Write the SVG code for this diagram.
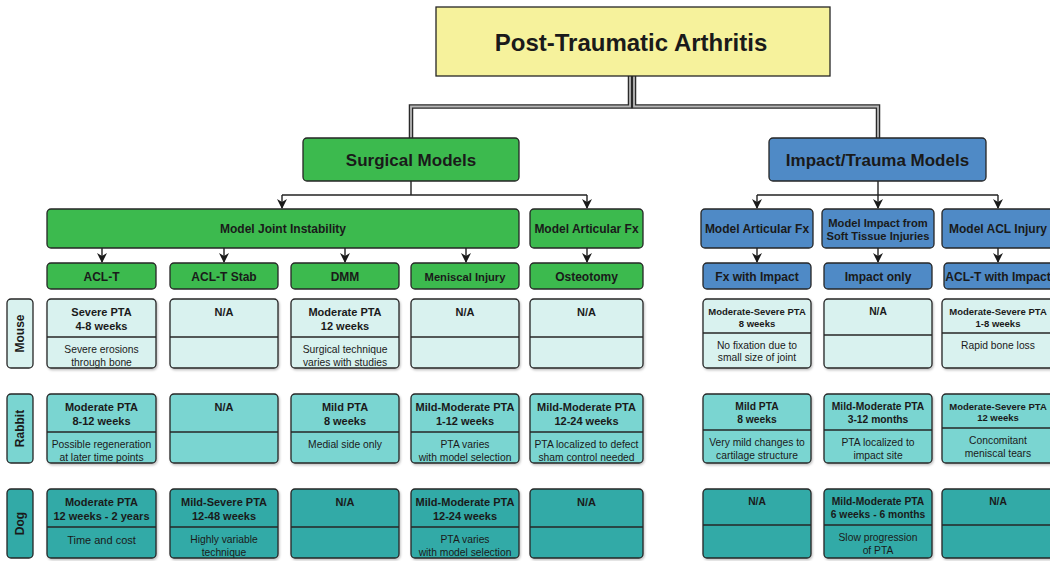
<svg xmlns="http://www.w3.org/2000/svg" width="1050" height="561" viewBox="0 0 1050 561">
<defs>
<style>
text{font-family:"Liberation Sans",Arial,sans-serif;fill:#1a1a1a;text-anchor:middle}
.b{font-weight:bold}
.box{stroke:#262626;stroke-width:1.3}
.g{fill:#3cba4e}
.bl{fill:#4f8ac6}
.m{fill:#d9f2ef}
.r{fill:#7ad5d1}
.d{fill:#32aaa7}
.div{stroke:#262626;stroke-width:1.3}
.con{fill:none;stroke:#222;stroke-width:1.4}
.dbo{fill:none;stroke:#2a2a2a;stroke-width:4.5}
.dbi{fill:none;stroke:#b8b8b8;stroke-width:1.8}
.t1{font-size:11px;font-weight:bold}
.t2{font-size:10.3px}
.t3{font-size:10.3px;font-weight:bold}
.t4{font-size:9.5px;font-weight:bold}
.sh{filter:url(#shadow)}
</style>
<filter id="shadow" x="-10%" y="-10%" width="130%" height="130%">
<feDropShadow dx="1" dy="1.5" stdDeviation="1.2" flood-color="#000" flood-opacity="0.25"/>
</filter>
<marker id="arr" markerWidth="10" markerHeight="10" refX="9" refY="5" orient="auto" markerUnits="userSpaceOnUse">
<path d="M0,0 L10,5 L0,10 L3,5 z" fill="#1a1a1a"/>
</marker>
</defs>
<rect width="1050" height="561" fill="#fff"/>

<g id="connectors">
<path class="dbo" d="M630,76 V106.5 H411 V138"/>
<path class="dbo" d="M634,76 V106.5 H878 V138"/>
<path class="dbi" d="M630,76 V106.5 H411 V138"/>
<path class="dbi" d="M634,76 V106.5 H878 V138"/>
<path class="con" d="M411,181 V195"/>
<path class="con" d="M282,195 H587"/>
<path class="con" d="M282,195 V208" marker-end="url(#arr)"/>
<path class="con" d="M587,195 V208" marker-end="url(#arr)"/>
<path class="con" d="M878,181 V208" marker-end="url(#arr)"/>
<path class="con" d="M757,195 H998"/>
<path class="con" d="M757,195 V208" marker-end="url(#arr)"/>
<path class="con" d="M998,195 V208" marker-end="url(#arr)"/>
<path class="con" d="M102,248 V262" marker-end="url(#arr)"/>
<path class="con" d="M224,248 V262" marker-end="url(#arr)"/>
<path class="con" d="M345,248 V262" marker-end="url(#arr)"/>
<path class="con" d="M466,248 V262" marker-end="url(#arr)"/>
<path class="con" d="M587,248 V262" marker-end="url(#arr)"/>
<path class="con" d="M757,248 V262" marker-end="url(#arr)"/>
<path class="con" d="M878,248 V262" marker-end="url(#arr)"/>
<path class="con" d="M998,248 V262" marker-end="url(#arr)"/>
</g>

<g id="title">
<rect x="436" y="7" width="394" height="69" fill="#f6f29c" class="box"/>
<text x="631" y="51" class="b" style="font-size:24px">Post-Traumatic Arthritis</text>
</g>

<g id="surgical">
<rect x="303" y="138" width="216" height="43" rx="4" class="box g"/>
<text x="411" y="166" class="b" style="font-size:17px">Surgical Models</text>
</g>
<g id="impact">
<rect x="769" y="138" width="217" height="43" rx="4" class="box bl"/>
<text x="877.5" y="166" class="b" style="font-size:17px">Impact/Trauma Models</text>
</g>

<g id="joint-instability">
<rect x="47" y="209" width="472" height="39" rx="4" class="box g"/>
<text x="283" y="233" class="b" style="font-size:12px">Model Joint Instability</text>
</g>
<g id="s-articular">
<rect x="530" y="209" width="113" height="39" rx="4" class="box g"/>
<text x="586.5" y="233" class="b" style="font-size:12px">Model Articular Fx</text>
</g>
<g id="i-articular">
<rect x="701" y="209" width="112" height="39" rx="4" class="box bl"/>
<text x="757" y="233" class="b" style="font-size:12px">Model Articular Fx</text>
</g>
<g id="i-soft">
<rect x="822" y="209" width="112" height="39" rx="4" class="box bl"/>
<text x="878" y="227" class="b" style="font-size:11.2px">Model Impact from</text>
<text x="878" y="240" class="b" style="font-size:11.2px">Soft Tissue Injuries</text>
</g>
<g id="i-acl">
<rect x="942" y="209" width="114" height="39" rx="4" class="box bl"/>
<text x="998" y="233" class="b" style="font-size:12px">Model ACL Injury</text>
</g>

<g id="aclt"><rect x="47" y="263" width="109" height="26" rx="4" class="box g"/><text x="101.5" y="281" class="b" style="font-size:12px">ACL-T</text></g>
<g id="acltstab"><rect x="170" y="263" width="108" height="26" rx="4" class="box g"/><text x="224" y="281" class="b" style="font-size:12px">ACL-T Stab</text></g>
<g id="dmm"><rect x="291" y="263" width="108" height="26" rx="4" class="box g"/><text x="345" y="281" class="b" style="font-size:12px">DMM</text></g>
<g id="meniscal"><rect x="411" y="263" width="108" height="26" rx="4" class="box g"/><text x="465" y="281" class="b" style="font-size:11.2px">Meniscal Injury</text></g>
<g id="osteotomy"><rect x="530" y="263" width="113" height="26" rx="4" class="box g"/><text x="586.5" y="281" class="b" style="font-size:12px">Osteotomy</text></g>
<g id="fximpact"><rect x="703" y="263" width="108" height="26" rx="4" class="box bl"/><text x="757" y="281" class="b" style="font-size:12px">Fx with Impact</text></g>
<g id="impactonly"><rect x="824" y="263" width="108" height="26" rx="4" class="box bl"/><text x="878" y="281" class="b" style="font-size:12px">Impact only</text></g>
<g id="acltimpact"><rect x="944" y="263" width="112" height="26" rx="4" class="box bl"/><text x="998" y="281" class="b" style="font-size:12px">ACL-T with Impact</text></g>

<g id="row-mouse"><rect x="7" y="299" width="26" height="69" rx="4" class="box m"/><text transform="translate(24,333.5) rotate(-90)" class="b" style="font-size:12px">Mouse</text></g>
<g id="row-rabbit"><rect x="7" y="394" width="26" height="69" rx="4" class="box r"/><text transform="translate(24,428.5) rotate(-90)" class="b" style="font-size:12px">Rabbit</text></g>
<g id="row-dog"><rect x="7" y="489" width="26" height="69" rx="4" class="box d"/><text transform="translate(24,523.5) rotate(-90)" class="b" style="font-size:12px">Dog</text></g>

<!-- Mouse row -->
<g id="m-aclt"><rect x="47" y="299" width="109" height="69" rx="4" class="box m sh"/><line x1="47" y1="337" x2="156" y2="337" class="div"/>
<text x="101.5" y="316" class="t1">Severe PTA</text><text x="101.5" y="330" class="t1">4-8 weeks</text>
<text x="101.5" y="353" class="t2">Severe erosions</text><text x="101.5" y="366" class="t2">through bone</text></g>
<g id="m-acltstab"><rect x="170" y="299" width="108" height="69" rx="4" class="box m sh"/><line x1="170" y1="337" x2="278" y2="337" class="div"/>
<text x="224" y="316" class="t1">N/A</text></g>
<g id="m-dmm"><rect x="291" y="299" width="108" height="69" rx="4" class="box m sh"/><line x1="291" y1="337" x2="399" y2="337" class="div"/>
<text x="345" y="316" class="t1">Moderate PTA</text><text x="345" y="330" class="t1">12 weeks</text>
<text x="345" y="353" class="t2">Surgical technique</text><text x="345" y="366" class="t2">varies with studies</text></g>
<g id="m-meniscal"><rect x="411" y="299" width="108" height="69" rx="4" class="box m sh"/><line x1="411" y1="337" x2="519" y2="337" class="div"/>
<text x="465" y="316" class="t1">N/A</text></g>
<g id="m-osteotomy"><rect x="530" y="299" width="113" height="69" rx="4" class="box m sh"/><line x1="530" y1="337" x2="643" y2="337" class="div"/>
<text x="586.5" y="316" class="t1">N/A</text></g>
<g id="m-fximpact"><rect x="703" y="299" width="108" height="69" rx="4" class="box m sh"/><line x1="703" y1="333" x2="811" y2="333" class="div"/>
<text x="757" y="314.5" class="t4">Moderate-Severe PTA</text><text x="757" y="326.5" class="t4">8 weeks</text>
<text x="757" y="349" class="t2">No fixation due to</text><text x="757" y="361" class="t2">small size of joint</text></g>
<g id="m-impactonly"><rect x="824" y="299" width="108" height="69" rx="4" class="box m sh"/><line x1="824" y1="335" x2="932" y2="335" class="div"/>
<text x="878" y="315" class="t3">N/A</text></g>
<g id="m-acltimpact"><rect x="942" y="299" width="114" height="69" rx="4" class="box m sh"/><line x1="942" y1="333" x2="1056" y2="333" class="div"/>
<text x="998" y="314.5" class="t4">Moderate-Severe PTA</text><text x="998" y="326.5" class="t4">1-8 weeks</text>
<text x="998" y="349" class="t2">Rapid bone loss</text></g>

<!-- Rabbit row -->
<g id="r-aclt"><rect x="47" y="394" width="109" height="69" rx="4" class="box r sh"/><line x1="47" y1="432" x2="156" y2="432" class="div"/>
<text x="101.5" y="411" class="t1">Moderate PTA</text><text x="101.5" y="425" class="t1">8-12 weeks</text>
<text x="101.5" y="448" class="t2">Possible regeneration</text><text x="101.5" y="461" class="t2">at later time points</text></g>
<g id="r-acltstab"><rect x="170" y="394" width="108" height="69" rx="4" class="box r sh"/><line x1="170" y1="432" x2="278" y2="432" class="div"/>
<text x="224" y="411" class="t1">N/A</text></g>
<g id="r-dmm"><rect x="291" y="394" width="108" height="69" rx="4" class="box r sh"/><line x1="291" y1="432" x2="399" y2="432" class="div"/>
<text x="345" y="411" class="t1">Mild PTA</text><text x="345" y="425" class="t1">8 weeks</text>
<text x="345" y="448" class="t2">Medial side only</text></g>
<g id="r-meniscal"><rect x="411" y="394" width="108" height="69" rx="4" class="box r sh"/><line x1="411" y1="432" x2="519" y2="432" class="div"/>
<text x="465" y="411" class="t1">Mild-Moderate PTA</text><text x="465" y="425" class="t1">1-12 weeks</text>
<text x="465" y="448" class="t2">PTA varies</text><text x="465" y="461" class="t2">with model selection</text></g>
<g id="r-osteotomy"><rect x="530" y="394" width="113" height="69" rx="4" class="box r sh"/><line x1="530" y1="432" x2="643" y2="432" class="div"/>
<text x="586.5" y="411" class="t1">Mild-Moderate PTA</text><text x="586.5" y="425" class="t1">12-24 weeks</text>
<text x="586.5" y="448" class="t2">PTA localized to defect</text><text x="586.5" y="461" class="t2">sham control needed</text></g>
<g id="r-fximpact"><rect x="703" y="394" width="108" height="69" rx="4" class="box r sh"/><line x1="703" y1="430" x2="811" y2="430" class="div"/>
<text x="757" y="410" class="t3">Mild PTA</text><text x="757" y="423" class="t3">8 weeks</text>
<text x="757" y="446" class="t2">Very mild changes to</text><text x="757" y="459" class="t2">cartilage structure</text></g>
<g id="r-impactonly"><rect x="824" y="394" width="108" height="69" rx="4" class="box r sh"/><line x1="824" y1="430" x2="932" y2="430" class="div"/>
<text x="878" y="410" class="t3">Mild-Moderate PTA</text><text x="878" y="423" class="t3">3-12 months</text>
<text x="878" y="446" class="t2">PTA localized to</text><text x="878" y="459" class="t2">impact site</text></g>
<g id="r-acltimpact"><rect x="942" y="394" width="114" height="69" rx="4" class="box r sh"/><line x1="942" y1="428" x2="1056" y2="428" class="div"/>
<text x="998" y="409.5" class="t4">Moderate-Severe PTA</text><text x="998" y="420.5" class="t4">12 weeks</text>
<text x="998" y="444" class="t2">Concomitant</text><text x="998" y="457" class="t2">meniscal tears</text></g>

<!-- Dog row -->
<g id="d-aclt"><rect x="47" y="489" width="109" height="69" rx="4" class="box d sh"/><line x1="47" y1="527" x2="156" y2="527" class="div"/>
<text x="101.5" y="506" class="t1">Moderate PTA</text><text x="101.5" y="520" class="t1">12 weeks - 2 years</text>
<text x="101.5" y="544" style="font-size:11px">Time and cost</text></g>
<g id="d-acltstab"><rect x="170" y="489" width="108" height="69" rx="4" class="box d sh"/><line x1="170" y1="527" x2="278" y2="527" class="div"/>
<text x="224" y="506" class="t1">Mild-Severe PTA</text><text x="224" y="520" class="t1">12-48 weeks</text>
<text x="224" y="543" class="t2">Highly variable</text><text x="224" y="556" class="t2">technique</text></g>
<g id="d-dmm"><rect x="291" y="489" width="108" height="69" rx="4" class="box d sh"/><line x1="291" y1="527" x2="399" y2="527" class="div"/>
<text x="345" y="506" class="t1">N/A</text></g>
<g id="d-meniscal"><rect x="411" y="489" width="108" height="69" rx="4" class="box d sh"/><line x1="411" y1="527" x2="519" y2="527" class="div"/>
<text x="465" y="506" class="t1">Mild-Moderate PTA</text><text x="465" y="520" class="t1">12-24 weeks</text>
<text x="465" y="543" class="t2">PTA varies</text><text x="465" y="556" class="t2">with model selection</text></g>
<g id="d-osteotomy"><rect x="530" y="489" width="113" height="69" rx="4" class="box d sh"/><line x1="530" y1="527" x2="643" y2="527" class="div"/>
<text x="586.5" y="506" class="t1">N/A</text></g>
<g id="d-fximpact"><rect x="703" y="489" width="108" height="69" rx="4" class="box d sh"/><line x1="703" y1="525" x2="811" y2="525" class="div"/>
<text x="757" y="505" class="t3">N/A</text></g>
<g id="d-impactonly"><rect x="824" y="489" width="108" height="69" rx="4" class="box d sh"/><line x1="824" y1="525" x2="932" y2="525" class="div"/>
<text x="878" y="505" class="t3">Mild-Moderate PTA</text><text x="878" y="518" class="t3">6 weeks - 6 months</text>
<text x="878" y="541" class="t2">Slow progression</text><text x="878" y="554" class="t2">of PTA</text></g>
<g id="d-acltimpact"><rect x="942" y="489" width="114" height="69" rx="4" class="box d sh"/><line x1="942" y1="525" x2="1056" y2="525" class="div"/>
<text x="998" y="505" class="t3">N/A</text></g>
</svg>
